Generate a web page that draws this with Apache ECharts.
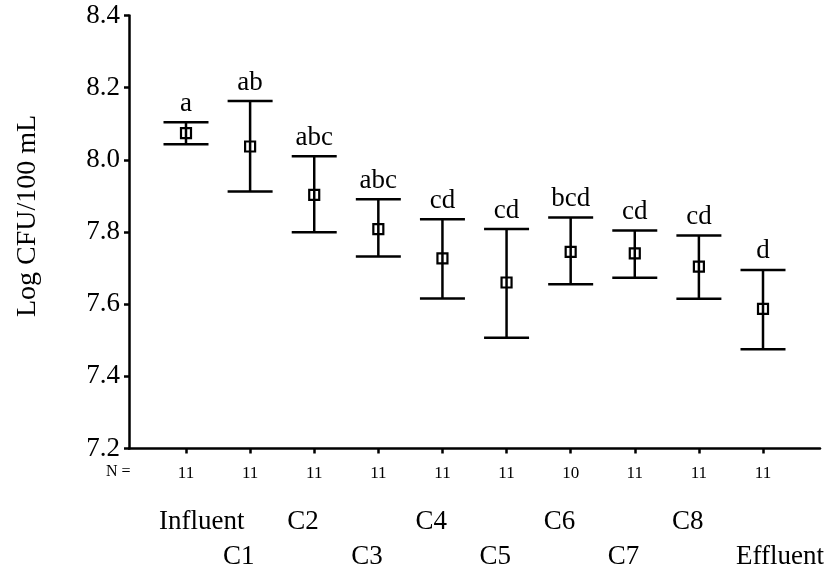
<!DOCTYPE html>
<html>
<head>
<meta charset="utf-8">
<script src="https://cdn.jsdelivr.net/npm/echarts@6/dist/echarts.min.js"></script>
<style>
html,body{margin:0;padding:0;background:#fff;}
#chart{width:833px;height:575px;}
</style>
</head>
<body>
<div id="chart"></div>
<script>
const categories = ['Influent','C1','C2','C3','C4','C5','C6','C7','C8','Effluent'];
const means = [8.074, 8.037, 7.903, 7.808, 7.727, 7.660, 7.745, 7.741, 7.704, 7.587];
const upper = [8.104, 8.163, 8.010, 7.891, 7.835, 7.808, 7.840, 7.804, 7.790, 7.695];
const lower = [8.043, 7.912, 7.799, 7.732, 7.616, 7.507, 7.655, 7.673, 7.615, 7.475];
const letters = ['a','ab','abc','abc','cd','cd','bcd','cd','cd','d'];
const nValues = [11, 11, 11, 11, 11, 11, 10, 11, 11, 11];
const yMin = 7.2, yMax = 8.4, yStep = 0.2;
const yAxisTitle = 'Log CFU/100 mL';
const nLabel = 'N =';

const FONT = '"Liberation Serif", "Times New Roman", serif';
const positions = categories.map((c, i) => i);
const data = categories.map((c, i) => [i, means[i], upper[i], lower[i]]);

const chart = echarts.init(document.getElementById('chart'), null, {renderer: 'canvas'});

function renderItem(params, api) {
  const i = api.value(0);
  const pm = api.coord([i, api.value(1)]);
  const pu = api.coord([i, api.value(2)]);
  const pl = api.coord([i, api.value(3)]);
  const pb = api.coord([i, yMin]);
  const half = 22.5, lw = 2.5, sq = 10;
  const ls = {stroke: '#000', lineWidth: lw, fill: null};
  const row = i % 2;
  return {
    type: 'group',
    children: [
      {type: 'line', shape: {x1: pu[0], y1: pu[1], x2: pl[0], y2: pl[1]}, style: ls},
      {type: 'line', shape: {x1: pu[0] - half, y1: pu[1], x2: pu[0] + half, y2: pu[1]}, style: ls},
      {type: 'line', shape: {x1: pl[0] - half, y1: pl[1], x2: pl[0] + half, y2: pl[1]}, style: ls},
      {type: 'rect', shape: {x: pm[0] - sq / 2, y: pm[1] - sq / 2, width: sq, height: sq},
        style: {stroke: '#000', lineWidth: 2.2, fill: null}},
      {type: 'text', x: pu[0], y: pu[1] - 5,
        style: {text: letters[i], fill: '#000', font: '27px ' + FONT, textAlign: 'center', textVerticalAlign: 'bottom'}},
      {type: 'text', x: pb[0] - 27, y: pb[1] + (row === 0 ? 73 : 108),
        style: {text: categories[i], fill: '#000', font: '27px ' + FONT, textAlign: 'left', textVerticalAlign: 'middle'}}
    ]
  };
}

chart.setOption({
  animation: false,
  backgroundColor: '#fff',
  grid: {left: 129, right: 13, top: 15.5, bottom: 126.5, containLabel: false},
  xAxis: {
    type: 'value',
    min: -0.889, max: 9.889,
    axisLine: {show: true, onZero: false, lineStyle: {color: '#000', width: 2.5}},
    axisTick: {show: true, customValues: positions, length: 5, inside: false, lineStyle: {color: '#000', width: 2.5}},
    axisLabel: {show: true, customValues: positions, margin: 17, color: '#000', fontFamily: FONT, fontSize: 17,
      formatter: v => String(nValues[Math.round(v)])},
    splitLine: {show: false}
  },
  yAxis: {
    type: 'value',
    min: yMin, max: yMax, interval: yStep,
    axisLine: {show: true, onZero: false, lineStyle: {color: '#000', width: 2.5}},
    axisTick: {show: true, length: 5, lineStyle: {color: '#000', width: 2.5}},
    axisLabel: {margin: 9, color: '#000', fontFamily: FONT, fontSize: 27, formatter: v => v.toFixed(1)},
    splitLine: {show: false}
  },
  graphic: [{
    type: 'text', x: 28, y: 216, rotation: Math.PI / 2,
    style: {text: yAxisTitle, fill: '#000', font: '28px ' + FONT, textAlign: 'center', textVerticalAlign: 'middle'}
  }, {
    type: 'text', left: 106, top: 464,
    style: {text: nLabel, fill: '#000', font: '16px ' + FONT}
  }],
  series: [{
    type: 'custom',
    renderItem: renderItem,
    clip: false,
    encode: {x: 0, y: [1, 2, 3]},
    data: data,
    z: 10
  }]
});
</script>
</body>
</html>
